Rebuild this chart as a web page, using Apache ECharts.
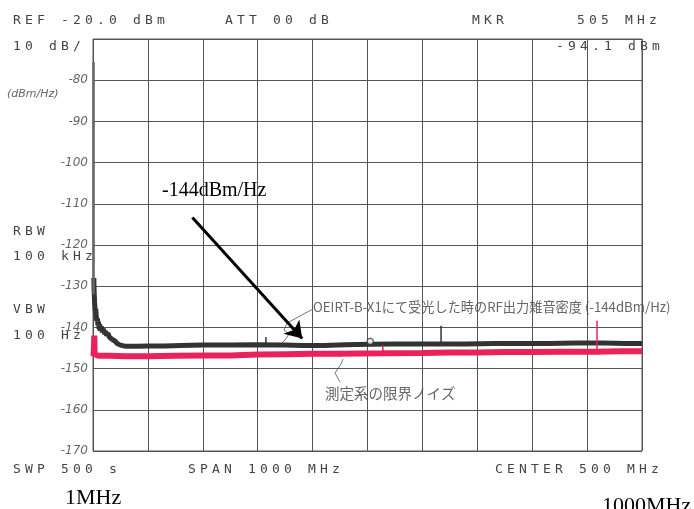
<!DOCTYPE html>
<html>
<head>
<meta charset="utf-8">
<script src="https://cdn.jsdelivr.net/npm/echarts@6/dist/echarts.min.js"></script>
<style>
html, body { margin: 0; padding: 0; background: #fff; }
#spectrum { width: 694px; height: 509px; }
</style>
</head>
<body>
<div id="spectrum"></div>
<script>
// spectrum analyzer screen, 0-1000 MHz span, 10 dB/div, levels in dBm/Hz
const blackTrace = [
  [1.5, -128], [2, -131], [3, -134], [4, -136], [5, -135.5], [6, -137.5], [7, -138.5],
  [8, -137.8], [9, -139.5], [10, -138.6], [11, -140.4], [12, -139.2], [13, -140.8],
  [15, -139.8], [17, -141.2], [19, -140.3], [21, -141.6], [23, -140.9], [25, -142],
  [27, -141.4], [30, -142.4], [33, -142], [36, -143], [40, -143.3], [44, -143.9],
  [50, -144.3], [60, -144.6], [80, -144.6], [100, -144.5], [130, -144.5], [160, -144.4],
  [200, -144.3], [250, -144.3], [290, -144.2], [350, -144.3], [380, -144.4], [420, -144.4],
  [460, -144.2], [505, -144.1], [550, -144.0], [600, -144.0], [680, -144.0], [730, -143.9],
  [780, -143.9], [830, -143.9], [880, -143.8], [930, -143.8], [970, -143.9], [1000, -143.9]
]
const redTrace = [
  [1, -147], [2, -147], [2.4, -142], [3, -146.5], [5, -146.8], [10, -146.9], [30, -146.9],
  [60, -147], [100, -147], [150, -146.9], [200, -146.8], [250, -146.8], [300, -146.6],
  [350, -146.5], [400, -146.4], [450, -146.4], [527, -146.3], [600, -146.2], [650, -146.1],
  [700, -146.1], [750, -146], [800, -146], [850, -145.9], [917, -145.9], [960, -145.8],
  [1000, -145.8]
]
// [freq, base, peak]
const blackSpikes = [[315, -144.2, -142.3], [634, -144.0, -139.6]]
const redSpikes = [[528, -146.3, -144.4], [918, -145.9, -138.4]]
const dcSpike = [[1, -75.6], [1, -132]]
const markerPoint = [[505, -143.4]]
const arrowFrom = [181, -113.3]
const arrowTo = [381, -142.7]

const chart = echarts.init(document.getElementById('spectrum'))

function plotterText (str, x, y) {
  return str.split('').map((ch, i) => ({
    type: 'text',
    x: x + i * 12,
    y: y,
    silent: true,
    style: {
      text: ch,
      fill: '#444',
      font: '13px "DejaVu Sans Mono"',
      textVerticalAlign: 'middle'
    }
  }))
}

function note (text, x, y, font, fill) {
  return {
    type: 'text', x: x, y: y, silent: true,
    style: { text: text, font: font, fill: fill || '#666', textVerticalAlign: 'middle' }
  }
}

function spikeSeries (spikes, color) {
  return spikes.map(s => ({
    type: 'line',
    data: [[s[0], s[1]], [s[0], s[2]]],
    symbol: 'none',
    silent: true,
    lineStyle: { color: color, width: 1.5 },
    z: 3
  }))
}

const graphics = [].concat(
  plotterText('REF -20.0 dBm', 13, 21),
  plotterText('ATT 00 dB', 225, 21),
  plotterText('MKR', 472, 21),
  plotterText('505 MHz', 577, 21),
  plotterText('10 dB/', 13, 47),
  plotterText('-94.1 dBm', 556, 47),
  plotterText('RBW', 13, 232),
  plotterText('100 kHz', 13, 257),
  plotterText('VBW', 13, 310),
  plotterText('100 Hz', 13, 336),
  plotterText('SWP 500 s', 13, 470),
  plotterText('SPAN 1000 MHz', 188, 470),
  plotterText('CENTER 500 MHz', 495, 470),
  [
    note('(dBm/Hz)', 7, 94, 'italic 11px "DejaVu Sans"'),
    note('-144dBm/Hz', 162, 191, '20px "Liberation Serif"', '#000'),
    note('1MHz', 65, 498, '22px "Liberation Serif"', '#000'),
    note('1000MHz', 602, 506, '22px "Liberation Serif"', '#000'),
    note('OEIRT-B-X1にて受光した時のRF出力雑音密度 (-144dBm/Hz)', 313, 307, '13.2px "Noto Sans CJK JP"'),
    note('測定系の限界ノイズ', 325, 393, '14.5px "Noto Sans CJK JP"'),
    {
      type: 'polyline', silent: true,
      shape: { points: [[313, 309], [287, 323], [284, 330], [289, 334], [285, 340], [281, 344]] },
      style: { stroke: '#777', lineWidth: 1, fill: null }
    },
    {
      type: 'polyline', silent: true,
      shape: { points: [[343, 359], [341, 364], [335, 373], [340, 382]] },
      style: { stroke: '#777', lineWidth: 1, fill: null }
    }
  ]
)

const options = {
  animation: false,
  backgroundColor: '#fff',
  grid: {
    left: 93,
    right: 52,
    top: 39,
    bottom: 58,
    show: true,
    borderColor: '#555',
    borderWidth: 1
  },
  xAxis: {
    type: 'value',
    min: 0,
    max: 1000,
    interval: 100,
    axisLine: { show: false },
    axisTick: { show: false },
    axisLabel: { show: false },
    splitLine: { lineStyle: { color: '#555', width: 1 } }
  },
  yAxis: {
    type: 'value',
    min: -170,
    max: -70,
    interval: 10,
    axisLine: { show: false },
    axisTick: { show: false },
    axisLabel: {
      margin: 5,
      color: '#666',
      fontStyle: 'italic',
      fontSize: 12,
      fontFamily: 'DejaVu Sans',
      formatter: v => (v === -70 ? '' : String(v))
    },
    splitLine: { lineStyle: { color: '#555', width: 1 } }
  },
  graphic: graphics,
  series: [
    {
      name: 'limit',
      type: 'line',
      data: redTrace,
      symbol: 'none',
      silent: true,
      lineStyle: { color: '#ea2259', width: 6 },
      z: 2
    },
    {
      name: 'output',
      type: 'line',
      data: blackTrace,
      symbol: 'none',
      silent: true,
      lineStyle: { color: '#333', width: 5 },
      z: 2,
      markLine: {
        silent: true,
        animation: false,
        symbol: ['none', 'arrow'],
        symbolSize: 16,
        label: { show: false },
        lineStyle: { color: '#000', width: 3, type: 'solid' },
        data: [[{ coord: arrowFrom }, { coord: arrowTo }]]
      }
    },
    {
      type: 'line',
      data: dcSpike,
      symbol: 'none',
      silent: true,
      lineStyle: { color: '#666', width: 2.5 },
      z: 3
    },
    ...spikeSeries(blackSpikes, '#333'),
    ...spikeSeries(redSpikes, '#ea2259'),
    {
      type: 'scatter',
      data: markerPoint,
      symbol: 'circle',
      symbolSize: 6,
      silent: true,
      itemStyle: { color: '#fff', borderColor: '#333', borderWidth: 1.2 },
      z: 4
    }
  ]
}

chart.setOption(options)
</script>
</body>
</html>
